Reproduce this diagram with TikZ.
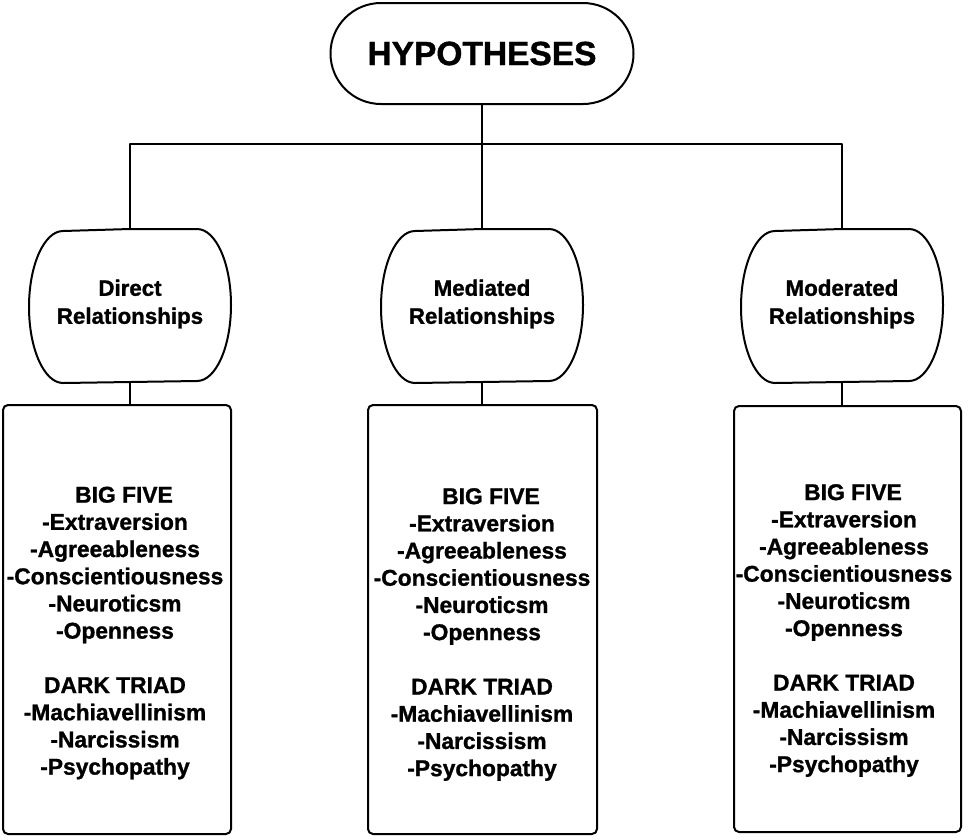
\documentclass[tikz,border=0pt]{standalone}
\usepackage{fontspec}
\setmainfont{Liberation Sans}[BoldFeatures={FakeBold=1.2}]
\usetikzlibrary{shapes.misc}
\begin{document}
\begin{tikzpicture}[x=1pt,y=-1pt,
  line width=2pt, line join=round,
  every node/.style={font=\bfseries, text=black},
  topnode/.style={rounded rectangle, draw, minimum width=303pt, minimum height=101pt, inner sep=0pt, font=\fontsize{33.5}{38}\selectfont\bfseries},
  barrel/.style={minimum width=202pt, minimum height=152pt, inner sep=0pt, align=center, font=\fontsize{22.3}{28}\selectfont\bfseries},
  listbox/.style={draw, rounded corners=5pt, inner sep=0pt},
  listtext/.style={align=center, inner sep=0pt, font=\fontsize{22.8}{27.2}\selectfont\bfseries}
]
\useasboundingbox (0,0) rectangle (963,836);

% top node
\node[topnode] (hyp) at (482,53.5) {HYPOTHESES};

% category nodes (barrel outlines drawn below)
\node[barrel] (dir) at (130,304) {Direct\\Relationships};
\node[barrel] (med) at (482,304) {Mediated\\Relationships};
\node[barrel] (mod) at (842,304) {Moderated\\Relationships};

% barrel outline: flat top and bottom, elliptic sides
\foreach \n in {dir,med,mod}{
  \draw ([yshift=-2pt]\n.north) -- ([xshift=67pt,yshift=-2pt]\n.north)
        arc[start angle=90, end angle=-90, x radius=34pt, y radius=76pt]
        -- ([xshift=-67pt,yshift=-2pt]\n.south)
        arc[start angle=270, end angle=90, x radius=34pt, y radius=76pt]
        -- cycle;
}

% list boxes
\node[listbox, minimum width=228pt, minimum height=429pt] (dirbox) at (117,619.5) {};
\node[listbox, minimum width=229pt, minimum height=429pt] (medbox) at (482.5,619.5) {};
\node[listbox, minimum width=227pt, minimum height=426pt] (modbox) at (847.5,619) {};

\newcommand{\traitlist}{\hspace*{18pt}BIG FIVE\\-Extraversion\\-Agreeableness\\-Conscientiousness\\-Neuroticsm\\-Openness\\[27.2pt]DARK TRIAD\\-Machiavellinism\\-Narcissism\\-Psychopathy}
\node[listtext] (dirlist) at (115,633) {\traitlist};
\node[listtext] (medlist) at (482,634.5) {\traitlist};
\node[listtext] (modlist) at (844,630.5) {\traitlist};

% connectors
\draw (hyp.south) -- ([yshift=-2pt]med.north);
\draw ([yshift=-2pt]dir.north) -- ++(0,-85) -| ([yshift=-2pt]mod.north);
\draw ([yshift=-2pt]dir.south) -- (dir.south |- dirbox.north);
\draw ([yshift=-2pt]med.south) -- (med.south |- medbox.north);
\draw ([yshift=-2pt]mod.south) -- (mod.south |- modbox.north);
\end{tikzpicture}
\end{document}
